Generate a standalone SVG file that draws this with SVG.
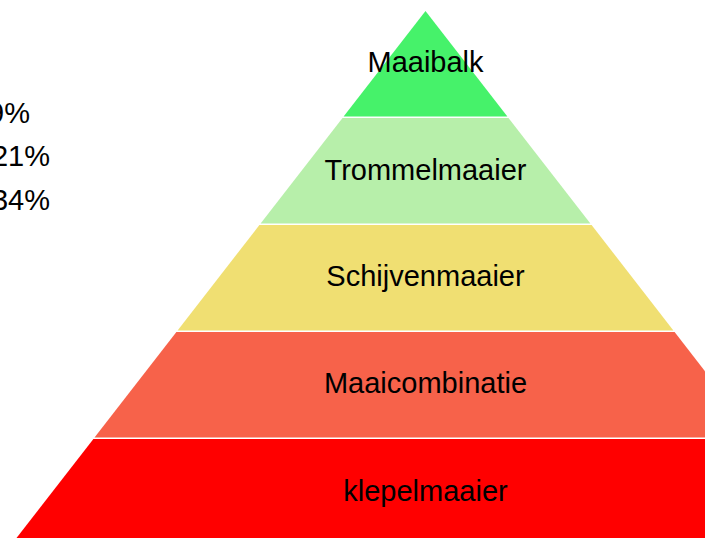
<svg xmlns="http://www.w3.org/2000/svg" width="705" height="538" viewBox="0 0 705 538">
<style>
text{font-family:"Liberation Sans",Arial,sans-serif;font-size:29px;fill:#000}
.c{text-anchor:middle}
.r{text-anchor:end}
</style>
<rect width="705" height="538" fill="#fff"/>
<g id="percentages">
<text class="r" x="30" y="123">9%</text>
<text class="r" x="50" y="166">21%</text>
<text class="r" x="50" y="210">34%</text>
</g>
<g id="connectors"></g>
<g id="layer-maaibalk">
<polygon points="425.5,11 507.4,116.5 343.6,116.5" fill="#46F26A"/>
<text class="c" x="425.5" y="72">Maaibalk</text>
</g>
<g id="layer-trommelmaaier">
<polygon points="342.5,118 508.5,118 590.4,223.5 260.6,223.5" fill="#B7EFAA"/>
<text class="c" x="425.5" y="180">Trommelmaaier</text>
</g>
<g id="layer-schijvenmaaier">
<polygon points="259.4,225 591.6,225 673.4,330.5 177.6,330.5" fill="#F0DF72"/>
<text class="c" x="425.5" y="286">Schijvenmaaier</text>
</g>
<g id="layer-maaicombinatie">
<polygon points="176.4,332 674.6,332 756.5,437.5 94.5,437.5" fill="#F7624A"/>
<text class="c" x="425.5" y="393">Maaicombinatie</text>
</g>
<g id="layer-klepelmaaier">
<polygon points="93.4,439 757.6,439 834.5,538 16.5,538" fill="#FF0000"/>
<text class="c" x="425.5" y="501">klepelmaaier</text>
</g>
</svg>
